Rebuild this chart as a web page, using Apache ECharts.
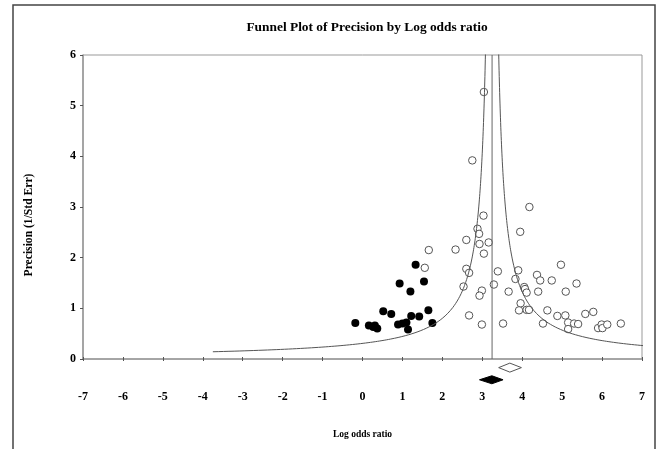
<!DOCTYPE html>
<html>
<head>
<meta charset="utf-8">
<script src="https://cdn.jsdelivr.net/npm/echarts@6/dist/echarts.min.js"></script>
<style>
  html, body { margin: 0; padding: 0; background: #fff; }
  #chart { width: 661px; height: 449px; }
</style>
</head>
<body>
<div id="chart"></div>
<script>
// studies: [log odds ratio, precision]
const observedStudies = [
  [-0.18, 0.71], [0.16, 0.66], [0.27, 0.63], [0.31, 0.66], [0.37, 0.60],
  [0.52, 0.94], [0.72, 0.89], [0.89, 0.68], [1.00, 0.70], [1.10, 0.72],
  [1.14, 0.58], [1.22, 0.85], [1.42, 0.84], [1.65, 0.96], [1.75, 0.71],
  [0.93, 1.49], [1.20, 1.33], [1.33, 1.86], [1.54, 1.53]
];
const openStudies = [
  [3.04, 5.27], [2.75, 3.92], [4.18, 3.00], [3.03, 2.83], [2.88, 2.57],
  [2.92, 2.47], [2.60, 2.35], [2.33, 2.16], [2.93, 2.27], [3.16, 2.30],
  [3.04, 2.08], [3.95, 2.51], [2.60, 1.78], [2.67, 1.70], [2.53, 1.43],
  [2.99, 1.35], [2.93, 1.25], [3.39, 1.73], [3.29, 1.47], [3.66, 1.33],
  [3.90, 1.75], [3.83, 1.58], [4.05, 1.42], [4.07, 1.38], [4.11, 1.31],
  [4.37, 1.66], [4.40, 1.33], [3.96, 1.10], [3.92, 0.96], [4.11, 0.97],
  [4.17, 0.97], [2.67, 0.86], [2.99, 0.68], [3.52, 0.70], [1.66, 2.15],
  [1.56, 1.80], [4.45, 1.55], [4.74, 1.55], [4.97, 1.86], [5.09, 1.33],
  [5.36, 1.49], [4.63, 0.96], [4.52, 0.70], [4.88, 0.85], [5.08, 0.86],
  [5.15, 0.72], [5.15, 0.59], [5.30, 0.70], [5.40, 0.69], [5.58, 0.89],
  [5.78, 0.93], [5.90, 0.61], [5.99, 0.68], [6.01, 0.61], [6.13, 0.68],
  [6.47, 0.70]
];
// summary diamonds: [estimate, lower, upper, row position]
const observedSummary = [3.24, 2.93, 3.52, -0.41];
const adjustedSummary = [3.69, 3.41, 3.98, -0.17];
const pooledEstimate = 3.245;
const funnelWidth = 1.0;
const minPrecision = 0.143;

const xTicks = [-7, -6, -5, -4, -3, -2, -1, 0, 1, 2, 3, 4, 5, 6, 7];

// funnel boundaries
const leftFunnel = [], rightFunnel = [];
for (let p = minPrecision; p <= 6.5; p *= 1.02) {
  leftFunnel.push([pooledEstimate - funnelWidth / p, p]);
  rightFunnel.push([pooledEstimate + funnelWidth / p, p]);
}

const serif = 'Liberation Serif';
const chart = echarts.init(document.getElementById('chart'));

function diamond(params, api) {
  const c = api.coord([api.value(0), api.value(3)]);
  const l = api.coord([api.value(1), api.value(3)]);
  const r = api.coord([api.value(2), api.value(3)]);
  const solid = params.seriesIndex === 5;
  const h = solid ? 4 : 4.5;
  return {
    type: 'polygon',
    shape: { points: [[l[0], c[1]], [c[0], c[1] - h], [r[0], c[1]], [c[0], c[1] + h]] },
    style: {
      fill: solid ? '#000' : '#fff',
      stroke: solid ? '#000' : '#555',
      lineWidth: 1
    }
  };
}

chart.setOption({
  animation: false,
  title: {
    text: 'Funnel Plot of Precision by Log odds ratio',
    left: 362,
    top: 16,
    textAlign: 'center',
    textStyle: { fontFamily: serif, fontWeight: 'bold', fontSize: 13.4, color: '#000' }
  },
  graphic: [
    {
      type: 'rect',
      shape: { x: 13, y: 5, width: 642, height: 470 },
      style: { fill: 'none', stroke: '#444', lineWidth: 1.5 },
      silent: true
    },
    {
      type: 'text',
      x: 29, y: 225,
      rotation: Math.PI / 2,
      style: {
        text: 'Precision (1/Std Err)',
        font: 'bold 11.6px "Liberation Serif"',
        fill: '#000',
        align: 'center',
        verticalAlign: 'middle'
      }
    }
  ],
  grid: {
    left: 83, top: 55, right: 19, bottom: 90,
    show: true, borderColor: '#999', borderWidth: 1
  },
  xAxis: [
    {
      type: 'value', min: -7, max: 7, interval: 1,
      name: 'Log odds ratio',
      nameLocation: 'middle',
      nameGap: 71,
      nameTextStyle: { fontFamily: serif, fontWeight: 'bold', fontSize: 9.5, color: '#000' },
      axisLine: { onZero: false, lineStyle: { color: '#999', width: 1.5 } },
      axisTick: { inside: true, length: 2, lineStyle: { color: '#555' } },
      axisLabel: {
        margin: 32,
        fontFamily: serif, fontWeight: 'bold', fontSize: 12, color: '#000',
        formatter: v => xTicks.includes(v) ? String(v) : ''
      },
      splitLine: { show: false }
    },
    {
      type: 'value', min: -7, max: 7, interval: 1, position: 'bottom',
      axisLine: { show: false, onZero: false },
      axisTick: { show: true, length: 2, lineStyle: { color: '#555' } },
      axisLabel: { show: false },
      splitLine: { show: false }
    }
  ],
  yAxis: {
    type: 'value', min: 0, max: 6, interval: 1,
    axisLine: { show: true, onZero: false, lineStyle: { color: '#999', width: 1.5 } },
    axisTick: { show: true, length: 3, lineStyle: { color: '#555' } },
    axisLabel: { margin: 7, fontFamily: serif, fontWeight: 'bold', fontSize: 12, color: '#000' },
    splitLine: { show: false }
  },
  series: [
    {
      type: 'line', data: leftFunnel, showSymbol: false,
      lineStyle: { color: '#555', width: 1 }, silent: true
    },
    {
      type: 'line', data: rightFunnel, showSymbol: false,
      lineStyle: { color: '#555', width: 1 }, silent: true
    },
    {
      type: 'line', data: [[pooledEstimate, 0], [pooledEstimate, 6]], showSymbol: false,
      lineStyle: { color: '#666', width: 1 }, silent: true
    },
    {
      type: 'scatter', data: openStudies, symbol: 'circle', symbolSize: 7.5,
      itemStyle: { color: '#fff', borderColor: '#555', borderWidth: 1, opacity: 1 }
    },
    {
      type: 'scatter', data: observedStudies, symbol: 'circle', symbolSize: 8,
      itemStyle: { color: '#000', opacity: 1 }
    },
    {
      type: 'custom', data: [observedSummary], renderItem: diamond, clip: false
    },
    {
      type: 'custom', data: [adjustedSummary], renderItem: diamond, clip: false
    }
  ]
});
</script>
</body>
</html>
